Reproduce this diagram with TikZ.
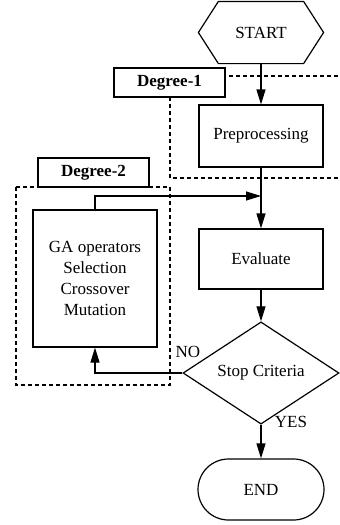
\documentclass[tikz,border=0pt]{standalone}
\usepackage{fontspec}
\setmainfont{Liberation Serif}
\usetikzlibrary{shapes.geometric,shapes.misc,arrows.meta,calc}
\begin{document}
\begin{tikzpicture}[x=1pt,y=-1pt,
  font=\fontsize{17}{21}\selectfont,
  line width=1.2pt,
  box/.style={draw,rectangle,inner sep=0pt,align=center,fill=white},
  lbl/.style={draw,rectangle,inner sep=0pt,fill=white,font=\fontsize{17}{21}\selectfont\bfseries,minimum width=111pt,minimum height=29pt},
  region/.style={dash pattern=on 4pt off 3pt,line width=1.1pt},
  arr/.style={-{Triangle[length=15pt,width=9pt]}},
  plain/.style={inner sep=0pt}]
\useasboundingbox (0,0) rectangle (340,525);
% regions
\draw[region] (345,76) -- (170,76) -- (170,178) -- (345,178);
\draw[region] (16,187) rectangle (170,385);
% nodes
\node[plain,minimum width=124pt,minimum height=61pt] (start) at (261,32.5) {START};
\draw ($(start.west)$) -- ($(start.north west)+(20,0)$) -- ($(start.north east)+(-20,0)$) -- (start.east) -- ($(start.south east)+(-20,0)$) -- ($(start.south west)+(20,0)$) -- cycle;
\node[lbl] (deg1) at (169.5,82.5) {Degree-1};
\node[box,minimum width=124pt,minimum height=62pt] (pre) at (261,136) {Preprocessing};
\node[lbl] (deg2) at (93.5,172.5) {Degree-2};
\node[box,minimum width=124pt,minimum height=137pt] (ga) at (95,278.5) {GA operators\\Selection\\Crossover\\Mutation};
\node[box,minimum width=124pt,minimum height=60pt] (eval) at (261,259) {Evaluate};
\node[draw,diamond,inner sep=0pt,minimum width=156pt,minimum height=82pt,fill=white] (stop) at (261,373) {Stop Criteria};
\node[draw,rounded rectangle,inner sep=0pt,minimum width=126pt,minimum height=61pt] (endn) at (261,489.5) {END};
\node[plain] (no) at (188,352) {NO};
\node[plain] (yes) at (291,422) {YES};
\coordinate (join) at (261,196);
% connectors
\draw[arr] (start.south) -- (pre.north);
\draw[arr] (pre.south) -- (eval.north);
\draw[arr] (ga.north) |- (join);
\draw[arr] (eval.south) -- (stop.north);
\draw[arr] (stop.west) -| (ga.south);
\draw[arr] (stop.south) -- (endn.north);
\end{tikzpicture}
\end{document}
